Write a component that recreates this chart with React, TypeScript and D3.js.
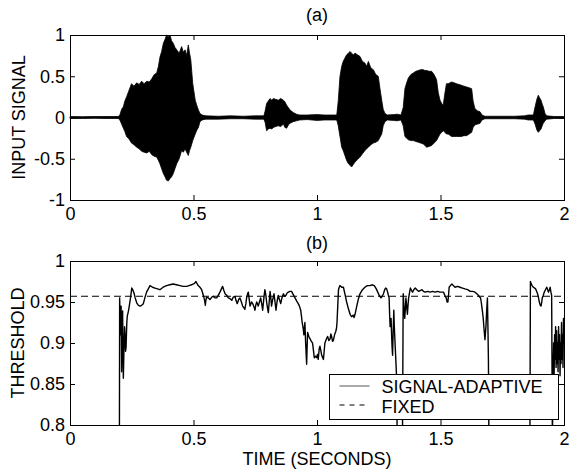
import React, { useRef, useEffect } from "react";
import * as d3 from "d3";

// (a) speech waveform, read as min/max envelope per time bin
const waveTime = [
  0, 0.05, 0.1, 0.15, 0.195, 0.202, 0.209, 0.216, 0.222, 0.229, 0.239, 0.249, 0.259, 0.27, 0.28, 0.29,
  0.3, 0.311, 0.321, 0.331, 0.341, 0.351, 0.358, 0.364, 0.371, 0.378, 0.385, 0.391, 0.398, 0.405, 0.411,
  0.418, 0.425, 0.432, 0.442, 0.452, 0.459, 0.466, 0.472, 0.479, 0.484, 0.489, 0.497, 0.507, 0.514, 0.52,
  0.526, 0.535, 0.55, 0.6, 0.65, 0.7, 0.75, 0.785, 0.79, 0.796, 0.803, 0.81, 0.817, 0.823, 0.833, 0.843,
  0.853, 0.864, 0.87, 0.877, 0.884, 0.891, 0.904, 0.917, 0.93, 0.96, 1.0, 1.03, 1.06, 1.08, 1.086, 1.093,
  1.1, 1.106, 1.113, 1.12, 1.127, 1.134, 1.14, 1.147, 1.154, 1.164, 1.174, 1.184, 1.194, 1.201, 1.208,
  1.218, 1.228, 1.238, 1.248, 1.255, 1.262, 1.268, 1.275, 1.285, 1.31, 1.325, 1.34, 1.349, 1.356, 1.363,
  1.37, 1.38, 1.39, 1.4, 1.41, 1.42, 1.43, 1.437, 1.444, 1.454, 1.464, 1.474, 1.484, 1.491, 1.498, 1.505,
  1.511, 1.518, 1.524, 1.531, 1.545, 1.555, 1.565, 1.575, 1.585, 1.595, 1.606, 1.616, 1.626, 1.632, 1.639,
  1.65, 1.66, 1.668, 1.68, 1.75, 1.8, 1.84, 1.855, 1.876, 1.883, 1.89, 1.896, 1.901, 1.907, 1.912, 1.916,
  1.923, 1.93, 1.96, 2.0,
];
const waveMax = [
  0.012, 0.01, 0.012, 0.012, 0.012, 0.03, 0.1, 0.13, 0.2, 0.25, 0.33, 0.41, 0.38, 0.42, 0.4, 0.44,
  0.41, 0.44, 0.43, 0.47, 0.52, 0.54, 0.62, 0.73, 0.8, 0.9, 0.95, 1.0, 0.98, 1.0, 0.93,
  0.9, 0.85, 0.82, 0.78, 0.86, 0.79, 0.82, 0.75, 0.88, 0.78, 0.7, 0.41, 0.21, 0.14, 0.09,
  0.05, 0.03, 0.02, 0.015, 0.02, 0.015, 0.02, 0.02, 0.08, 0.17, 0.2, 0.23, 0.21, 0.23, 0.22, 0.21,
  0.23, 0.21, 0.19, 0.15, 0.12, 0.09, 0.06, 0.04, 0.03, 0.03, 0.035, 0.03, 0.03, 0.03, 0.2, 0.5,
  0.62, 0.68, 0.72, 0.76, 0.78, 0.8, 0.78, 0.76, 0.78, 0.76, 0.74, 0.68, 0.66, 0.62, 0.68,
  0.6, 0.58, 0.52, 0.5, 0.35, 0.21, 0.1, 0.05, 0.03, 0.035, 0.04, 0.03, 0.12, 0.35, 0.42,
  0.48, 0.52, 0.54, 0.56, 0.57, 0.58, 0.58, 0.57, 0.57, 0.56, 0.56, 0.52, 0.46, 0.3, 0.21, 0.17,
  0.15, 0.3, 0.41, 0.41, 0.43, 0.42, 0.41, 0.4, 0.39, 0.38, 0.37, 0.36, 0.35, 0.2, 0.11,
  0.08, 0.07, 0.03, 0.015, 0.015, 0.015, 0.02, 0.03, 0.03, 0.13, 0.22, 0.27, 0.24, 0.21, 0.16, 0.13,
  0.05, 0.02, 0.012, 0.012,
];
const waveMin = [
  -0.012, -0.012, -0.01, -0.012, -0.012, -0.03, -0.08, -0.13, -0.17, -0.23, -0.26, -0.31, -0.33, -0.36, -0.38, -0.41,
  -0.42, -0.43, -0.41, -0.45, -0.47, -0.48, -0.52, -0.56, -0.62, -0.68, -0.72, -0.76, -0.77, -0.74, -0.72,
  -0.68, -0.62, -0.56, -0.5, -0.4, -0.42, -0.38, -0.42, -0.46, -0.4, -0.36, -0.28, -0.2, -0.15, -0.12,
  -0.05, -0.03, -0.02, -0.02, -0.015, -0.015, -0.02, -0.02, -0.06, -0.16, -0.14, -0.13, -0.14, -0.12, -0.11, -0.1,
  -0.11, -0.08, -0.12, -0.13, -0.09, -0.07, -0.05, -0.04, -0.03, -0.025, -0.035, -0.03, -0.03, -0.03, -0.1, -0.23,
  -0.36, -0.4, -0.46, -0.52, -0.56, -0.58, -0.6, -0.57, -0.54, -0.51, -0.48, -0.44, -0.4, -0.38, -0.36,
  -0.33, -0.31, -0.3, -0.28, -0.24, -0.2, -0.1, -0.05, -0.03, -0.035, -0.04, -0.03, -0.1, -0.23, -0.25,
  -0.27, -0.28, -0.28, -0.29, -0.3, -0.31, -0.32, -0.34, -0.36, -0.35, -0.34, -0.31, -0.28, -0.24, -0.2, -0.18,
  -0.16, -0.18, -0.2, -0.2, -0.23, -0.23, -0.23, -0.23, -0.23, -0.22, -0.22, -0.2, -0.18, -0.12, -0.09,
  -0.08, -0.07, -0.03, -0.015, -0.015, -0.015, -0.02, -0.03, -0.03, -0.08, -0.15, -0.18, -0.16, -0.14, -0.1, -0.07,
  -0.04, -0.02, -0.012, -0.012,
];

// (b) signal-adaptive threshold (values under 0.8 fall off the axes)
const threshTime = [
  0.2, 0.201, 0.203, 0.205, 0.207, 0.209, 0.211, 0.213, 0.215, 0.216, 0.219, 0.221, 0.223, 0.225, 0.227, 0.23,
  0.232, 0.236, 0.24, 0.245, 0.25, 0.254, 0.259, 0.264, 0.27, 0.277, 0.284, 0.29, 0.297, 0.303, 0.31, 0.317,
  0.324, 0.334, 0.344, 0.354, 0.364, 0.377, 0.391, 0.404, 0.418, 0.431, 0.445, 0.458, 0.472, 0.482, 0.492,
  0.5, 0.505, 0.51, 0.515, 0.519, 0.526, 0.533, 0.54, 0.545, 0.548, 0.55, 0.553, 0.56, 0.567, 0.574, 0.58,
  0.587, 0.594, 0.6, 0.607, 0.613, 0.618, 0.623, 0.628, 0.635, 0.641, 0.648, 0.655, 0.661, 0.668, 0.672,
  0.677, 0.683, 0.688, 0.694, 0.699, 0.704, 0.708, 0.712, 0.715, 0.719, 0.722, 0.726, 0.729, 0.735, 0.74,
  0.745, 0.749, 0.752, 0.756, 0.76, 0.762, 0.767, 0.772, 0.776, 0.78, 0.785, 0.789, 0.793, 0.796, 0.8,
  0.803, 0.807, 0.81, 0.813, 0.816, 0.82, 0.826, 0.83, 0.834, 0.838, 0.843, 0.848, 0.853, 0.858, 0.864,
  0.869, 0.874, 0.879, 0.884, 0.89, 0.897, 0.904, 0.911, 0.918, 0.924, 0.929, 0.934, 0.937, 0.94, 0.944,
  0.947, 0.949, 0.951, 0.954, 0.958, 0.96, 0.962, 0.967, 0.972, 0.977, 0.982, 0.986, 0.989, 0.994, 0.998,
  1.002, 1.005, 1.009, 1.012, 1.016, 1.019, 1.023, 1.026, 1.029, 1.032, 1.038, 1.043, 1.048, 1.053, 1.056,
  1.059, 1.063, 1.066, 1.071, 1.076, 1.079, 1.081, 1.084, 1.087, 1.09, 1.093, 1.1, 1.107, 1.113, 1.12,
  1.127, 1.134, 1.14, 1.147, 1.15, 1.154, 1.161, 1.167, 1.174, 1.184, 1.194, 1.204, 1.215, 1.224, 1.232,
  1.24, 1.246, 1.252, 1.259, 1.264, 1.269, 1.274, 1.278, 1.282, 1.286, 1.289, 1.292, 1.294, 1.296, 1.298,
  1.3, 1.302, 1.304, 1.306, 1.308, 1.311, 1.313, 1.316, 1.319, 1.322, 1.325, 1.346, 1.349, 1.352, 1.355,
  1.358, 1.36, 1.363, 1.366, 1.369, 1.371, 1.375, 1.378, 1.383, 1.387, 1.392, 1.398, 1.404, 1.411, 1.418,
  1.425, 1.431, 1.438, 1.448, 1.458, 1.468, 1.478, 1.488, 1.498, 1.505, 1.512, 1.518, 1.523, 1.527, 1.53,
  1.533, 1.535, 1.54, 1.546, 1.552, 1.559, 1.569, 1.579, 1.589, 1.599, 1.61, 1.62, 1.63, 1.64, 1.647,
  1.654, 1.658, 1.662, 1.665, 1.667, 1.67, 1.673, 1.676, 1.68, 1.682, 1.684, 1.687, 1.69, 1.692, 1.694,
  1.696, 1.862, 1.864, 1.866, 1.871, 1.876, 1.881, 1.885, 1.889, 1.893, 1.897, 1.9, 1.904, 1.907, 1.91,
  1.912, 1.916, 1.92, 1.925, 1.93, 1.934, 1.937, 1.941, 1.944, 1.947, 1.95, 1.953, 1.956, 1.958, 1.96,
  1.962, 1.964, 1.966, 1.968, 1.97, 1.972, 1.974, 1.976, 1.978, 1.98, 1.982, 1.984, 1.986, 1.988, 1.99,
  1.992, 1.994, 1.996, 1.998, 2.0,
];
const threshValue = [
  0.78, 0.955, 0.93, 0.91, 0.945, 0.865, 0.92, 0.939, 0.88, 0.857, 0.9, 0.92, 0.909, 0.89, 0.895, 0.925,
  0.933, 0.938, 0.945, 0.955, 0.967, 0.965, 0.961, 0.955, 0.949, 0.946, 0.945, 0.946, 0.948, 0.955, 0.962, 0.966,
  0.97, 0.968, 0.967, 0.966, 0.965, 0.968, 0.97, 0.971, 0.972, 0.971, 0.97, 0.969, 0.969, 0.97, 0.971,
  0.972, 0.973, 0.975, 0.972, 0.97, 0.968, 0.965, 0.958, 0.952, 0.946, 0.952, 0.956, 0.955, 0.953, 0.956, 0.957,
  0.955, 0.955, 0.958, 0.962, 0.966, 0.969, 0.964, 0.96, 0.958, 0.955, 0.954, 0.952, 0.956, 0.957, 0.952,
  0.948, 0.953, 0.955, 0.95, 0.945, 0.943, 0.941, 0.948, 0.955, 0.96, 0.962, 0.952, 0.945, 0.95, 0.948,
  0.944, 0.94, 0.946, 0.95, 0.947, 0.945, 0.95, 0.955, 0.948, 0.94, 0.955, 0.965, 0.958, 0.95, 0.942,
  0.937, 0.952, 0.963, 0.955, 0.945, 0.952, 0.96, 0.95, 0.94, 0.95, 0.958, 0.953, 0.948, 0.955, 0.96,
  0.957, 0.958, 0.961, 0.962, 0.963, 0.963, 0.959, 0.955, 0.951, 0.948, 0.945, 0.94, 0.933, 0.925, 0.918,
  0.91, 0.918, 0.925, 0.9, 0.874, 0.895, 0.913, 0.908, 0.905, 0.902, 0.9, 0.89, 0.882, 0.884, 0.882,
  0.886, 0.88, 0.893, 0.896, 0.89, 0.885, 0.882, 0.88, 0.89, 0.9, 0.905, 0.908, 0.903, 0.905, 0.911,
  0.908, 0.902, 0.903, 0.91, 0.914, 0.918, 0.925, 0.945, 0.965, 0.968, 0.97, 0.968, 0.968, 0.96, 0.95,
  0.942, 0.935, 0.932, 0.934, 0.931, 0.935, 0.945, 0.953, 0.96, 0.965, 0.968, 0.97, 0.97, 0.971, 0.97,
  0.966, 0.962, 0.958, 0.955, 0.957, 0.96, 0.965, 0.967, 0.966, 0.962, 0.958, 0.955, 0.935, 0.92, 0.928,
  0.93, 0.91, 0.895, 0.885, 0.91, 0.94, 0.92, 0.9, 0.88, 0.86, 0.78, 0.78, 0.96, 0.945, 0.93,
  0.942, 0.955, 0.945, 0.935, 0.948, 0.955, 0.962, 0.967, 0.964, 0.962, 0.965, 0.967, 0.965, 0.963, 0.964,
  0.965, 0.963, 0.962, 0.963, 0.962, 0.963, 0.962, 0.963, 0.962, 0.962, 0.962, 0.958, 0.955, 0.95, 0.95,
  0.96, 0.968, 0.97, 0.972, 0.97, 0.968, 0.969, 0.968, 0.967, 0.966, 0.965, 0.963, 0.963, 0.962, 0.96,
  0.958, 0.956, 0.955, 0.95, 0.945, 0.938, 0.93, 0.918, 0.904, 0.912, 0.92, 0.94, 0.955, 0.92, 0.88,
  0.78, 0.78, 0.975, 0.973, 0.97, 0.968, 0.967, 0.966, 0.963, 0.96, 0.955, 0.95, 0.946, 0.945, 0.95,
  0.955, 0.958, 0.962, 0.965, 0.968, 0.965, 0.962, 0.965, 0.968, 0.962, 0.958, 0.78, 0.87, 0.9, 0.86,
  0.91, 0.88, 0.92, 0.87, 0.915, 0.875, 0.9, 0.865, 0.92, 0.88, 0.91, 0.86, 0.9, 0.875, 0.925,
  0.88, 0.91, 0.87, 0.93, 0.925,
];

const fixedThreshold = 0.957;

const xTicks = [0, 0.5, 1, 1.5, 2];
const yTicksA = [-1, -0.5, 0, 0.5, 1];
const yTicksB = [0.8, 0.85, 0.9, 0.95, 1];
const legendLabels = ["SIGNAL-ADAPTIVE", "FIXED"];

const FONT = "'Liberation Sans', Arial, Helvetica, sans-serif";

export default function App() {
  const svgRef = useRef<SVGSVGElement>(null);

  useEffect(() => {
    const svg = d3.select(svgRef.current);
    svg.selectAll("*").remove();

    const left = 70;
    const right = 564;
    const x = d3.scaleLinear().domain([0, 2]).range([left, right]);
    const yA = d3.scaleLinear().domain([-1, 1]).range([200, 35]);
    const yB = d3.scaleLinear().domain([0.8, 1]).range([425, 261]);

    const fmt = (d: any) => String(d);

    // frame with inward ticks on all four sides, MATLAB style
    const frame = (y: d3.ScaleLinear<number, number>, yTicks: number[]) => {
      const [bottom, top] = y.range();
      const styleText = (sel: any) =>
        sel
          .call((s: any) => s.select(".domain").remove())
          .selectAll("text")
          .attr("font-size", 18)
          .attr("font-family", FONT)
          .attr("fill", "#000");

      svg.append("g")
        .attr("transform", `translate(0,${bottom})`)
        .call(d3.axisBottom(x).tickValues(xTicks).tickSize(-5).tickPadding(7).tickFormat(fmt))
        .call(styleText);
      svg.append("g")
        .attr("transform", `translate(0,${top})`)
        .call(d3.axisTop(x).tickValues(xTicks).tickSize(-5).tickFormat(() => ""))
        .call(styleText);
      svg.append("g")
        .attr("transform", `translate(${left},0)`)
        .call(d3.axisLeft(y).tickValues(yTicks).tickSize(-5).tickPadding(5).tickFormat(fmt))
        .call(styleText);
      svg.append("g")
        .attr("transform", `translate(${right},0)`)
        .call(d3.axisRight(y).tickValues(yTicks).tickSize(-5).tickFormat(() => ""))
        .call(styleText);

      svg.append("rect")
        .attr("x", left + 0.5)
        .attr("y", top + 0.5)
        .attr("width", right - left)
        .attr("height", bottom - top)
        .attr("fill", "none")
        .attr("stroke", "#000")
        .attr("stroke-width", 1);
    };

    // ---- panel (a)
    const wave = waveTime.map((t, i) => ({ t, hi: waveMax[i], lo: waveMin[i] }));
    svg.append("path")
      .datum(wave)
      .attr(
        "d",
        d3.area<any>()
          .x((d) => x(d.t))
          .y0((d) => yA(d.lo))
          .y1((d) => yA(d.hi))
      )
      .attr("fill", "#000")
      .attr("stroke", "#000")
      .attr("stroke-width", 0.8)
      .attr("stroke-linejoin", "round");

    frame(yA, yTicksA);

    // ---- panel (b)
    svg.append("clipPath")
      .attr("id", "clipB")
      .append("rect")
      .attr("x", left)
      .attr("y", yB.range()[1])
      .attr("width", right - left)
      .attr("height", yB.range()[0] - yB.range()[1]);

    svg.append("line")
      .attr("x1", x(0))
      .attr("x2", x(2))
      .attr("y1", yB(fixedThreshold))
      .attr("y2", yB(fixedThreshold))
      .attr("stroke", "#000")
      .attr("stroke-width", 1)
      .attr("stroke-dasharray", "7,4");

    const thresh = threshTime.map((t, i) => ({ t, v: threshValue[i] }));
    svg.append("path")
      .datum(thresh)
      .attr("clip-path", "url(#clipB)")
      .attr(
        "d",
        d3.line<any>()
          .x((d) => x(d.t))
          .y((d) => yB(d.v))
      )
      .attr("fill", "none")
      .attr("stroke", "#000")
      .attr("stroke-width", 1.4)
      .attr("stroke-linejoin", "round");

    frame(yB, yTicksB);

    // legend
    const lg = svg.append("g").attr("transform", "translate(329.5,374.5)");
    lg.append("rect")
      .attr("width", 229)
      .attr("height", 45)
      .attr("fill", "#fff")
      .attr("stroke", "#000")
      .attr("stroke-width", 1);
    lg.append("line")
      .attr("x1", 10).attr("x2", 40)
      .attr("y1", 11.5).attr("y2", 11.5)
      .attr("stroke", "#555")
      .attr("stroke-width", 1);
    lg.append("line")
      .attr("x1", 10).attr("x2", 40)
      .attr("y1", 30.5).attr("y2", 30.5)
      .attr("stroke", "#000")
      .attr("stroke-width", 1)
      .attr("stroke-dasharray", "5,5");
    lg.selectAll("text.lab")
      .data(legendLabels)
      .join("text")
      .attr("class", "lab")
      .attr("x", 52)
      .attr("y", (_d, i) => 18.5 + i * 19.5)
      .attr("font-size", 18)
      .attr("font-family", FONT)
      .text((d) => d);

    // titles and axis labels
    const txt = (s: string, tx: number, ty: number, size: number, rotate = false) =>
      svg.append("text")
        .attr("transform", rotate ? `translate(${tx},${ty}) rotate(-90)` : `translate(${tx},${ty})`)
        .attr("text-anchor", "middle")
        .attr("font-size", size)
        .attr("font-family", FONT)
        .attr("fill", "#000")
        .text(s);

    const cx = (left + right) / 2;
    txt("(a)", cx, 21, 18);
    txt("(b)", cx, 249, 18);
    txt("TIME (SECONDS)", cx, 465, 18);
    txt("INPUT SIGNAL", 25, (yA.range()[0] + yA.range()[1]) / 2, 18, true);
    txt("THRESHOLD", 24, (yB.range()[0] + yB.range()[1]) / 2, 18, true);
  }, []);

  return (
    <div style={{ position: "absolute", left: 0, top: 0, background: "#fff" }}>
      <svg ref={svgRef} width={569} height={469} style={{ display: "block" }} />
    </div>
  );
}
